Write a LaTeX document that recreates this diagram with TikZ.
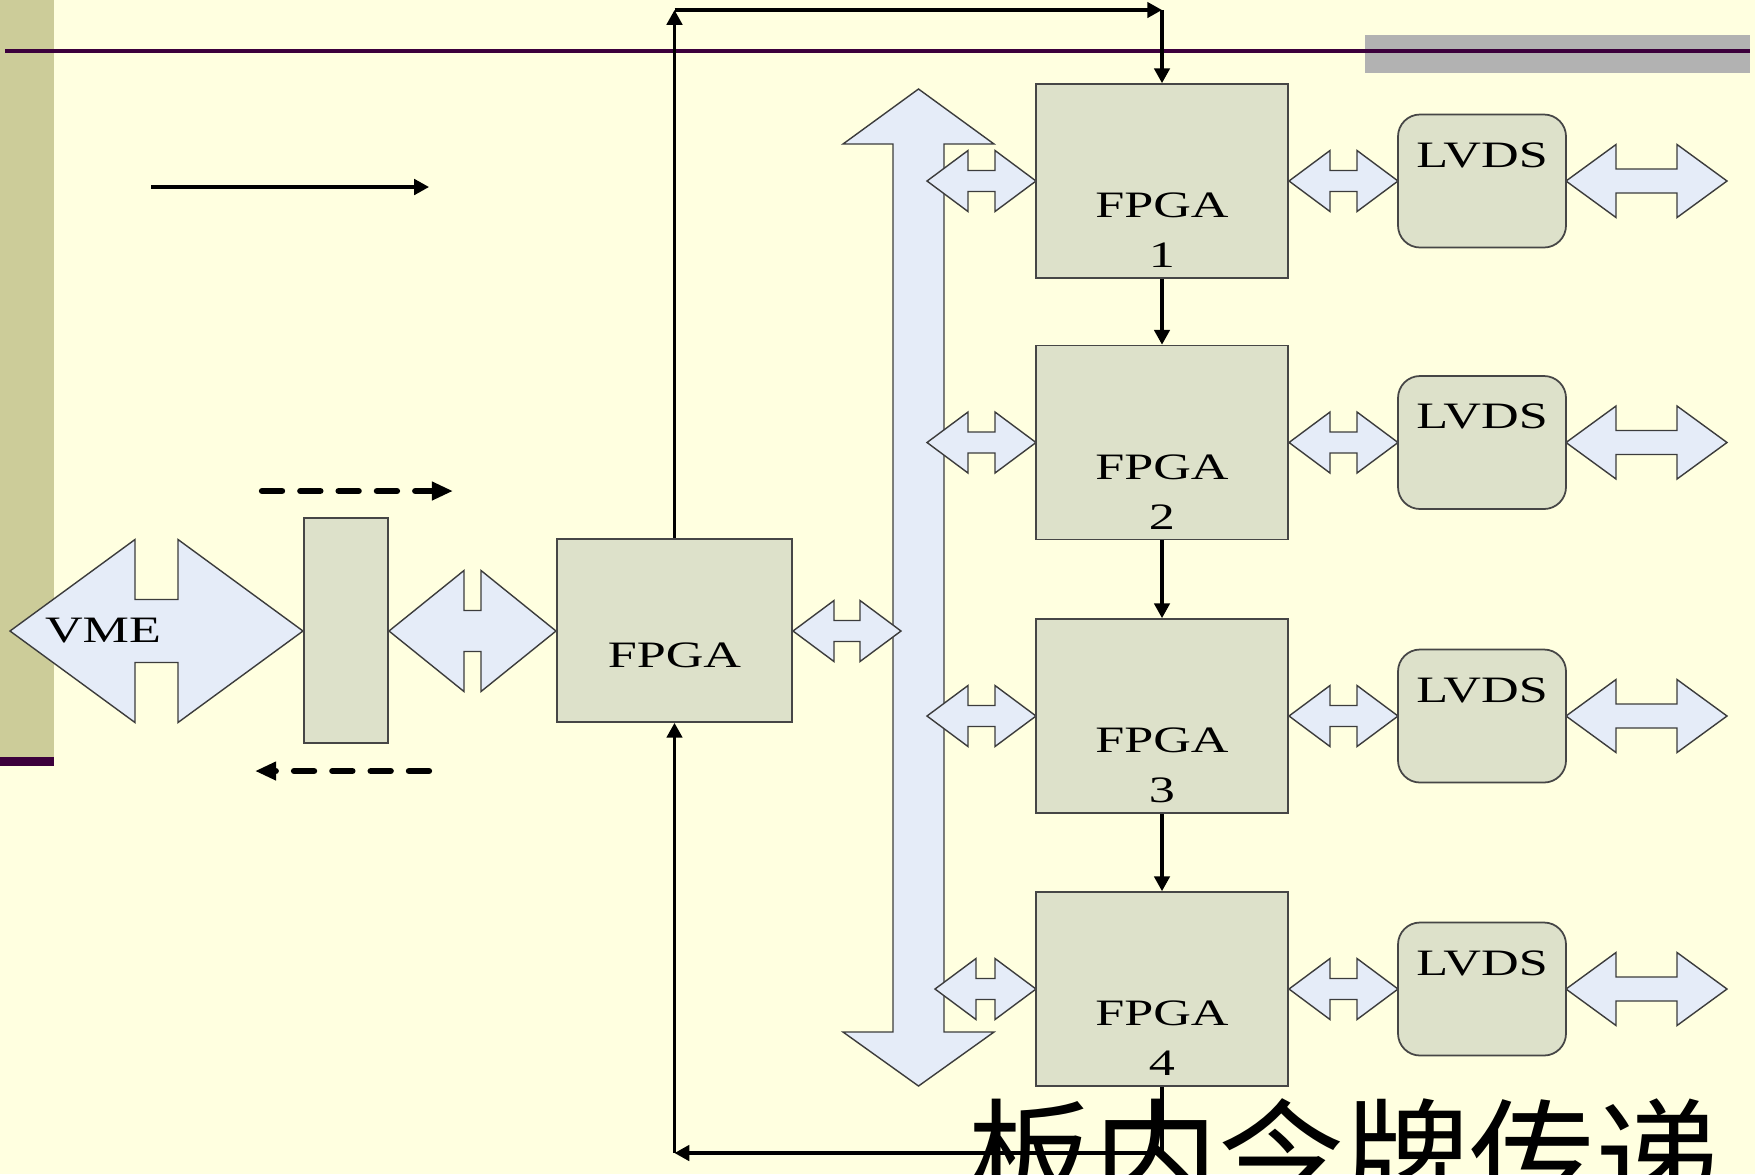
\documentclass[tikz,border=0pt]{standalone}
\usepackage{fontspec}
\setmainfont{Liberation Serif}
\newfontfamily\widefont[FakeStretch=1.4]{Liberation Serif}
\newfontfamily\cjkfont{Noto Sans CJK SC}
\usetikzlibrary{arrows.meta}

\definecolor{cream}{RGB}{255,255,224}
\definecolor{band}{RGB}{204,204,153}
\definecolor{deeppurple}{RGB}{60,0,60}
\definecolor{bargray}{RGB}{178,178,178}
\definecolor{boxfill}{RGB}{221,225,202}
\definecolor{boxline}{RGB}{70,70,70}
\definecolor{arrfill}{RGB}{229,236,248}
\definecolor{arrline}{RGB}{60,60,60}

% left-right block arrow: left x, right x, y, head half, shaft half, head length
\newcommand{\hdblarrow}[6]{%
  \draw[blk] (#1,#3) -- ({#1+#6},{#3+#4}) -- ({#1+#6},{#3+#5}) -- ({#2-#6},{#3+#5})
    -- ({#2-#6},{#3+#4}) -- (#2,#3) -- ({#2-#6},{#3-#4}) -- ({#2-#6},{#3-#5})
    -- ({#1+#6},{#3-#5}) -- ({#1+#6},{#3-#4}) -- cycle;}

\begin{document}
\begin{tikzpicture}[
        box/.style={draw=boxline, fill=boxfill, line width=0.5pt, inner sep=0pt},
        fpga/.style={box, minimum width=2.52cm, minimum height=1.94cm},
        lvds/.style={box, rounded corners=0.22cm, minimum width=1.68cm, minimum height=1.33cm},
        txt/.style={font=\widefont\fontsize{10.6}{14.2}\selectfont, align=center, inner sep=0pt},
        blk/.style={draw=arrline, fill=arrfill, line width=0.4pt},
        arr/.style={->, >={Triangle[length=4.2pt, width=4.4pt]}, line width=0.9pt},
        darr/.style={->, >={Triangle[length=6pt, width=5pt]}, line width=1.8pt,
                     dash pattern=on 5.7pt off 5.2pt, line cap=round}]

        \useasboundingbox (0,0) rectangle (17.55,-11.74);
        \clip (0,0) rectangle (17.55,-11.74);

        % slide background
        \fill[cream] (0,0) rectangle (17.55,-11.74);
        \fill[band] (0,0) rectangle (0.54,-7.57);
        \fill[deeppurple] (0,-7.57) rectangle (0.54,-7.66);
        \fill[bargray] (13.65,-0.35) rectangle (17.50,-0.73);
        \draw[deeppurple, line width=1.2pt] (0.05,-0.51) -- (17.50,-0.51);

        % bus
        \draw[blk] (9.185,-0.89) -- (9.94,-1.44) -- (9.44,-1.44) -- (9.44,-10.32) -- (9.94,-10.32)
            -- (9.185,-10.86) -- (8.43,-10.32) -- (8.93,-10.32) -- (8.93,-1.44) -- (8.43,-1.44) -- cycle;

        % block arrows
        \hdblarrow{0.10}{3.03}{-6.31}{0.915}{0.315}{1.25}
        \hdblarrow{3.89}{5.56}{-6.31}{0.605}{0.205}{0.75}
        \hdblarrow{7.93}{9.01}{-6.31}{0.305}{0.105}{0.41}

        \hdblarrow{9.27}{10.36}{-1.81}{0.305}{0.105}{0.41}
        \hdblarrow{9.27}{10.36}{-4.425}{0.305}{0.105}{0.41}
        \hdblarrow{9.27}{10.36}{-7.16}{0.305}{0.105}{0.41}
        \hdblarrow{9.35}{10.36}{-9.89}{0.305}{0.105}{0.41}

        \hdblarrow{12.89}{13.98}{-1.81}{0.305}{0.105}{0.41}
        \hdblarrow{12.89}{13.98}{-4.425}{0.305}{0.105}{0.41}
        \hdblarrow{12.89}{13.98}{-7.16}{0.305}{0.105}{0.41}
        \hdblarrow{12.89}{13.98}{-9.89}{0.305}{0.105}{0.41}

        \hdblarrow{15.66}{17.27}{-1.81}{0.365}{0.12}{0.50}
        \hdblarrow{15.66}{17.27}{-4.425}{0.365}{0.12}{0.50}
        \hdblarrow{15.66}{17.27}{-7.16}{0.365}{0.12}{0.50}
        \hdblarrow{15.66}{17.27}{-9.89}{0.365}{0.12}{0.50}

        \node[txt] (vme) at (1.03,-6.31) {VME};

        % boxes
        \node[box, minimum width=0.84cm, minimum height=2.25cm] (buffer) at (3.46,-6.305) {};
        \node[box, minimum width=2.35cm, minimum height=1.83cm] (fpga0) at (6.745,-6.305) {};
        \node[txt] (fpga0txt) at ([yshift=-2.45mm]fpga0.center) {FPGA};

        \node[fpga] (fpga1) at (11.62,-1.81)  {};
        \node[fpga] (fpga2) at (11.62,-4.425) {};
        \node[fpga] (fpga3) at (11.62,-7.16)  {};
        \node[fpga] (fpga4) at (11.62,-9.89)  {};
        \node[txt] (fpga1txt) at ([yshift=-4.95mm]fpga1.center) {FPGA\\1};
        \node[txt] (fpga2txt) at ([yshift=-4.95mm]fpga2.center) {FPGA\\2};
        \node[txt] (fpga3txt) at ([yshift=-4.95mm]fpga3.center) {FPGA\\3};
        \node[txt] (fpga4txt) at ([yshift=-4.95mm]fpga4.center) {FPGA\\4};

        \node[lvds] (lvds1) at (14.82,-1.81)  {};
        \node[lvds] (lvds2) at (14.82,-4.425) {};
        \node[lvds] (lvds3) at (14.82,-7.16)  {};
        \node[lvds] (lvds4) at (14.82,-9.89)  {};
        \node[txt] (lvds1txt) at ([yshift=2.6mm]lvds1.center) {LVDS};
        \node[txt] (lvds2txt) at ([yshift=2.6mm]lvds2.center) {LVDS};
        \node[txt] (lvds3txt) at ([yshift=2.6mm]lvds3.center) {LVDS};
        \node[txt] (lvds4txt) at ([yshift=2.6mm]lvds4.center) {LVDS};

        % direction hints
        \coordinate (hintS) at (1.51,-1.87);
        \coordinate (hintE) at (4.29,-1.87);
        \draw[arr] (hintS) -- (hintE);

        \coordinate (wrS) at (2.62,-4.91);
        \coordinate (wrE) at (4.53,-4.91);
        \coordinate (rdS) at (4.29,-7.71);
        \coordinate (rdE) at (2.55,-7.71);
        \draw[darr] (wrS) -- (wrE);
        \draw[darr] (rdS) -- (rdE);

        % token ring
        \coordinate (topL) at (fpga0.north |- 0,-0.10);
        \coordinate (topR) at (fpga1.north |- 0,-0.10);
        \coordinate (botR) at (fpga4.south |- 0,-11.53);
        \coordinate (botL) at (fpga0.south |- 0,-11.53);

        \draw[arr] (fpga0.north) -- (topL);
        \draw[arr] (topL) -- (topR);
        \draw[arr] (topR) -- (fpga1.north);
        \draw[arr] (fpga1.south) -- (fpga2.north);
        \draw[arr] (fpga2.south) -- (fpga3.north);
        \draw[arr] (fpga3.south) -- (fpga4.north);
        \draw[line width=0.9pt] (fpga4.south) -- (botR);
        \draw[arr] (botR) -- (botL);
        \draw[arr] (botL) -- (fpga0.south);

        \node[anchor=base west, inner sep=0pt, font=\cjkfont\fontsize{35.7}{40}\selectfont] (title) at (9.67,-12.04) {板内令牌传递};

\end{tikzpicture}
\end{document}
